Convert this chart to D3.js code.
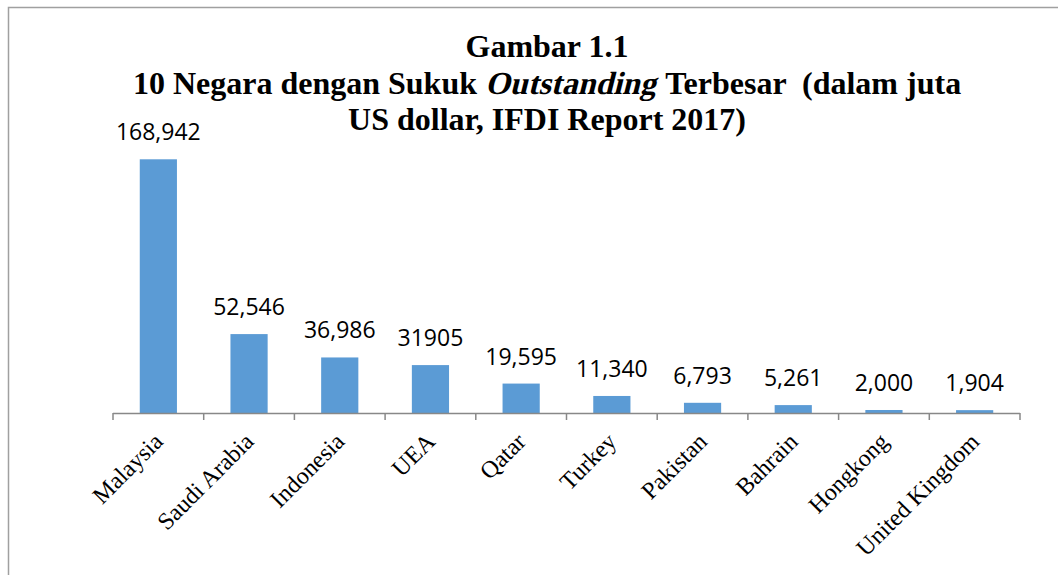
<!DOCTYPE html>
<html>
<head>
<meta charset="utf-8">
<script src="https://cdn.jsdelivr.net/npm/d3@7"></script>
<style>
  body { margin: 0; background: #fff; }
  svg { display: block; }
</style>
</head>
<body>
<script>
// data
const countries = ['Malaysia', 'Saudi Arabia', 'Indonesia', 'UEA', 'Qatar',
                   'Turkey', 'Pakistan', 'Bahrain', 'Hongkong', 'United Kingdom'];
const values = [168942, 52546, 36986, 31905, 19595, 11340, 6793, 5261, 2000, 1904];
const valueLabels = ['168,942', '52,546', '36,986', '31905', '19,595',
                     '11,340', '6,793', '5,261', '2,000', '1,904'];

let width = 1058,
    height = 575,
    baseY = 413,
    left = 113,
    right = 1020,
    titleX = 547;

const serif = '"Liberation Serif", "Times New Roman", serif';

const svg = d3.select('body').append('svg')
    .attr('width', width)
    .attr('height', height);

// chart frame (runs off the right and bottom of the picture)
svg.append('rect')
    .attr('x', 8.5).attr('y', 7.5)
    .attr('width', width + 20).attr('height', height + 20)
    .attr('fill', 'none')
    .attr('stroke', '#a0a0a0')
    .attr('stroke-width', 1.5);

const x = d3.scaleBand()
    .domain(countries)
    .range([left, right])
    .paddingInner(0.59)
    .paddingOuter(0.295);

const y = d3.scaleLinear()
    .domain([0, values[0]])
    .range([baseY, 159.3]);

// bars
svg.selectAll('.bar')
    .data(values)
    .enter().append('rect')
    .attr('class', 'bar')
    .attr('x', (d, i) => x(countries[i]))
    .attr('y', d => y(d))
    .attr('width', x.bandwidth())
    .attr('height', d => baseY - y(d))
    .attr('fill', '#5b9bd5');

// value labels
svg.selectAll('.val')
    .data(values)
    .enter().append('text')
    .attr('class', 'val')
    .attr('x', (d, i) => x(countries[i]) + x.bandwidth() / 2)
    .attr('y', d => y(d) - 19)
    .attr('text-anchor', 'middle')
    .style('font-family', '"Open Sans", sans-serif')
    .style('font-size', '23px')
    .attr('fill', '#000')
    .text((d, i) => valueLabels[i]);

// x axis with ticks between categories
const step = (right - left) / countries.length;
const ax = svg.append('g');
ax.append('line')
    .attr('x1', left).attr('x2', right)
    .attr('y1', baseY + 0.5).attr('y2', baseY + 0.5)
    .attr('stroke', '#888').attr('stroke-width', 1.5);
ax.selectAll('.tk')
    .data(d3.range(countries.length + 1))
    .enter().append('line')
    .attr('x1', d => left + d * step).attr('x2', d => left + d * step)
    .attr('y1', baseY).attr('y2', baseY + 7)
    .attr('stroke', '#888').attr('stroke-width', 1.5);

// category labels, rotated
svg.selectAll('.cat')
    .data(countries)
    .enter().append('text')
    .attr('class', 'cat')
    .attr('transform', d => {
        const cx = x(d) + x.bandwidth() / 2 + 6;
        return `translate(${cx},${baseY + 30}) rotate(-45)`;
    })
    .attr('text-anchor', 'end')
    .style('font-family', serif)
    .style('font-size', '24px')
    .attr('fill', '#000')
    .text(d => d);

// title
function titleText(g, txt) {
    return g.append('text')
        .style('font-family', serif)
        .style('font-size', '32px')
        .style('font-weight', 'bold')
        .style('white-space', 'pre')
        .attr('fill', '#000')
        .text(txt);
}

const tg = svg.append('g');
titleText(tg, 'Gambar 1.1').attr('x', titleX).attr('y', 57).attr('text-anchor', 'middle');
titleText(tg, 'US dollar, IFDI Report 2017)').attr('x', titleX).attr('y', 130).attr('text-anchor', 'middle');

// second line: the serif italic face is not installed, so slant the bold face by hand
const parts = [
    { t: '10 Negara dengan Sukuk ' },
    { t: 'Outstanding', italic: true },
    { t: ' Terbesar  (dalam juta' }
];
const nodes = parts.map(p => titleText(tg, p.t));
const widths = nodes.map((n, i) => n.node().getComputedTextLength() + (parts[i].italic ? 2 : 0));
let cx = titleX - d3.sum(widths) / 2;
nodes.forEach((n, i) => {
    if (parts[i].italic) {
        n.attr('transform', `translate(${cx},94) skewX(-14)`);
    } else {
        n.attr('x', cx).attr('y', 94);
    }
    cx += widths[i];
});
</script>
</body>
</html>
